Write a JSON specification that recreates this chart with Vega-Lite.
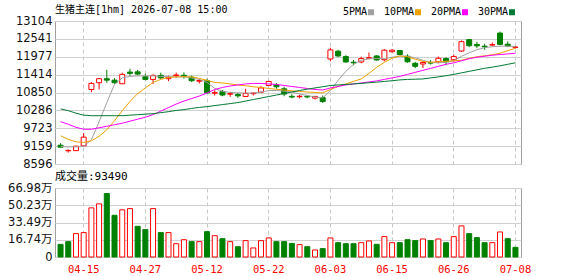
{
  "$schema": "https://vega.github.io/schema/vega-lite/v6.json",
  "padding": {"left": 7, "top": 4, "right": 0, "bottom": 0},
  "background": "white",
  "spacing": 0,
  "config": {
    "view": {"stroke": "#a0a0a0", "strokeWidth": 1},
    "font": "DejaVu Sans, Noto Sans CJK SC",
    "axisY": {"labelFont": "DejaVu Sans, Noto Sans CJK SC", "labelFontSize": 11.5, "labelColor": "#111111", "ticks": false, "domain": false, "labelPadding": 3, "gridColor": "#d0d0d0", "gridWidth": 1, "title": null, "labelOverlap": false, "labelFlush": false},
    "axisX": {"ticks": false, "domain": false, "gridColor": "#c8c8c8", "gridDash": [4, 3], "title": null, "bandPosition": 0.5, "labelOverlap": false, "labelFlush": false}
  },
  "data": {"values": [
    {"d":"04-10","o":9189,"h":9253,"l":9119,"c":9126,"v":122700,"dir":"d","vdir":"d","5PMA":9151,"10PMA":9485,"20PMA":9929,"30PMA":10332},
    {"d":"04-13","o":9011,"h":9062,"l":8954,"c":9024,"v":149000,"dir":"u","vdir":"d","5PMA":9135,"10PMA":9373,"20PMA":9850,"30PMA":10278},
    {"d":"04-14","o":9018,"h":9167,"l":9008,"c":9158,"v":227000,"dir":"u","vdir":"u","5PMA":9135,"10PMA":9294,"20PMA":9754,"30PMA":10199},
    {"d":"04-15","o":9167,"h":9570,"l":9158,"c":9443,"v":237000,"dir":"u","vdir":"u","5PMA":9151,"10PMA":9278,"20PMA":9691,"30PMA":10135},
    {"d":"04-16","o":10945,"h":11177,"l":10859,"c":11136,"v":477000,"dir":"u","vdir":"u","5PMA":9358,"10PMA":9326,"20PMA":9691,"30PMA":10119},
    {"d":"04-17","o":11158,"h":11294,"l":10945,"c":11285,"v":516000,"dir":"u","vdir":"u","5PMA":9929,"10PMA":9469,"20PMA":9738,"30PMA":10119},
    {"d":"04-20","o":11285,"h":11564,"l":11158,"c":11240,"v":616000,"dir":"d","vdir":"d","5PMA":10532,"10PMA":9675,"20PMA":9786,"30PMA":10119},
    {"d":"04-21","o":11240,"h":11304,"l":11126,"c":11158,"v":405000,"dir":"d","vdir":"d","5PMA":11104,"10PMA":9961,"20PMA":9834,"30PMA":10119},
    {"d":"04-22","o":11126,"h":11475,"l":11119,"c":11421,"v":458000,"dir":"u","vdir":"u","5PMA":11310,"10PMA":10278,"20PMA":9881,"30PMA":10119},
    {"d":"04-23","o":11494,"h":11602,"l":11380,"c":11453,"v":470000,"dir":"d","vdir":"u","5PMA":11358,"10PMA":10564,"20PMA":9945,"30PMA":10135},
    {"d":"04-24","o":11501,"h":11564,"l":11390,"c":11431,"v":298000,"dir":"d","vdir":"d","5PMA":11374,"10PMA":10818,"20PMA":10008,"30PMA":10151},
    {"d":"04-27","o":11348,"h":11443,"l":11240,"c":11263,"v":266000,"dir":"d","vdir":"d","5PMA":11374,"10PMA":10993,"20PMA":10072,"30PMA":10167},
    {"d":"04-28","o":11263,"h":11421,"l":11120,"c":11390,"v":470000,"dir":"u","vdir":"u","5PMA":11374,"10PMA":11167,"20PMA":10151,"30PMA":10183},
    {"d":"04-29","o":11390,"h":11475,"l":11285,"c":11310,"v":237000,"dir":"d","vdir":"d","5PMA":11358,"10PMA":11263,"20PMA":10262,"30PMA":10215},
    {"d":"04-30","o":11285,"h":11380,"l":11208,"c":11332,"v":237000,"dir":"u","vdir":"u","5PMA":11348,"10PMA":11326,"20PMA":10373,"30PMA":10246},
    {"d":"05-06","o":11383,"h":11475,"l":11316,"c":11402,"v":129000,"dir":"u","vdir":"u","5PMA":11342,"10PMA":11342,"20PMA":10485,"30PMA":10285},
    {"d":"05-07","o":11393,"h":11485,"l":11285,"c":11364,"v":168000,"dir":"d","vdir":"u","5PMA":11342,"10PMA":11348,"20PMA":10580,"30PMA":10310},
    {"d":"05-08","o":11332,"h":11380,"l":11183,"c":11221,"v":149000,"dir":"d","vdir":"d","5PMA":11310,"10PMA":11342,"20PMA":10659,"30PMA":10348},
    {"d":"05-11","o":11205,"h":11285,"l":11136,"c":11228,"v":149000,"dir":"u","vdir":"u","5PMA":11263,"10PMA":11294,"20PMA":10739,"30PMA":10380},
    {"d":"05-12","o":11221,"h":11285,"l":10818,"c":10840,"v":246000,"dir":"d","vdir":"d","5PMA":11167,"10PMA":11231,"20PMA":10834,"30PMA":10405},
    {"d":"05-13","o":10828,"h":10923,"l":10755,"c":10847,"v":207000,"dir":"u","vdir":"u","5PMA":10977,"10PMA":11167,"20PMA":10945,"30PMA":10437},
    {"d":"05-14","o":10875,"h":10929,"l":10732,"c":10770,"v":178000,"dir":"d","vdir":"d","5PMA":10891,"10PMA":11151,"20PMA":11009,"30PMA":10469},
    {"d":"05-15","o":10796,"h":10872,"l":10713,"c":10815,"v":149000,"dir":"u","vdir":"u","5PMA":10850,"10PMA":11120,"20PMA":11056,"30PMA":10500},
    {"d":"05-18","o":10786,"h":10834,"l":10681,"c":10745,"v":100000,"dir":"d","vdir":"d","5PMA":10840,"10PMA":11088,"20PMA":11088,"30PMA":10532},
    {"d":"05-19","o":10723,"h":10967,"l":10713,"c":10820,"v":159000,"dir":"u","vdir":"u","5PMA":10834,"10PMA":11062,"20PMA":11120,"30PMA":10580},
    {"d":"05-20","o":10812,"h":10859,"l":10755,"c":10830,"v":88000,"dir":"u","vdir":"u","5PMA":10834,"10PMA":11031,"20PMA":11136,"30PMA":10628},
    {"d":"05-21","o":10859,"h":11056,"l":10834,"c":10993,"v":159000,"dir":"u","vdir":"u","5PMA":10866,"10PMA":11009,"20PMA":11136,"30PMA":10675},
    {"d":"05-22","o":11072,"h":11215,"l":11062,"c":11199,"v":185000,"dir":"u","vdir":"u","5PMA":10913,"10PMA":10977,"20PMA":11120,"30PMA":10723},
    {"d":"05-25","o":11094,"h":11151,"l":10967,"c":11031,"v":149000,"dir":"d","vdir":"d","5PMA":10913,"10PMA":10951,"20PMA":11104,"30PMA":10770},
    {"d":"05-26","o":10967,"h":11031,"l":10732,"c":10802,"v":149000,"dir":"d","vdir":"d","5PMA":10891,"10PMA":10929,"20PMA":11072,"30PMA":10818},
    {"d":"05-27","o":10729,"h":10796,"l":10669,"c":10707,"v":132000,"dir":"d","vdir":"d","5PMA":10866,"10PMA":10904,"20PMA":11040,"30PMA":10866},
    {"d":"05-28","o":10716,"h":10777,"l":10669,"c":10732,"v":120000,"dir":"u","vdir":"u","5PMA":10802,"10PMA":10882,"20PMA":11009,"30PMA":10913},
    {"d":"05-29","o":10729,"h":10755,"l":10669,"c":10710,"v":100000,"dir":"d","vdir":"d","5PMA":10755,"10PMA":10866,"20PMA":10977,"30PMA":10954},
    {"d":"06-01","o":10675,"h":10745,"l":10628,"c":10726,"v":68000,"dir":"u","vdir":"u","5PMA":10707,"10PMA":10850,"20PMA":10945,"30PMA":10993},
    {"d":"06-02","o":10691,"h":10755,"l":10523,"c":10564,"v":81000,"dir":"d","vdir":"d","5PMA":10682,"10PMA":10840,"20PMA":10929,"30PMA":11031},
    {"d":"06-03","o":11907,"h":12263,"l":11834,"c":12193,"v":185000,"dir":"u","vdir":"u","5PMA":10913,"10PMA":10945,"20PMA":10993,"30PMA":11072},
    {"d":"06-04","o":12152,"h":12193,"l":11961,"c":12002,"v":139000,"dir":"d","vdir":"d","5PMA":11231,"10PMA":11040,"20PMA":11040,"30PMA":11088},
    {"d":"06-05","o":11983,"h":12025,"l":11793,"c":11812,"v":129000,"dir":"d","vdir":"d","5PMA":11517,"10PMA":11120,"20PMA":11088,"30PMA":11104},
    {"d":"06-08","o":11805,"h":11875,"l":11707,"c":11786,"v":129000,"dir":"d","vdir":"d","5PMA":11739,"10PMA":11199,"20PMA":11120,"30PMA":11120},
    {"d":"06-09","o":11812,"h":11983,"l":11771,"c":11920,"v":139000,"dir":"u","vdir":"u","5PMA":11866,"10PMA":11278,"20PMA":11151,"30PMA":11136},
    {"d":"06-10","o":11929,"h":12110,"l":11898,"c":11948,"v":156000,"dir":"u","vdir":"u","5PMA":11913,"10PMA":11453,"20PMA":11183,"30PMA":11158},
    {"d":"06-11","o":12002,"h":12025,"l":11856,"c":11875,"v":123000,"dir":"d","vdir":"d","5PMA":11920,"10PMA":11644,"20PMA":11215,"30PMA":11177},
    {"d":"06-12","o":11882,"h":12215,"l":11834,"c":12183,"v":198000,"dir":"u","vdir":"u","5PMA":11920,"10PMA":11802,"20PMA":11263,"30PMA":11199},
    {"d":"06-15","o":12136,"h":12215,"l":12110,"c":12183,"v":139000,"dir":"u","vdir":"u","5PMA":11961,"10PMA":11929,"20PMA":11310,"30PMA":11221},
    {"d":"06-16","o":12174,"h":12193,"l":12025,"c":12047,"v":139000,"dir":"d","vdir":"d","5PMA":12002,"10PMA":12002,"20PMA":11358,"30PMA":11247},
    {"d":"06-17","o":11993,"h":12056,"l":11786,"c":11818,"v":168000,"dir":"d","vdir":"d","5PMA":11993,"10PMA":11977,"20PMA":11421,"30PMA":11263},
    {"d":"06-18","o":11771,"h":11818,"l":11618,"c":11675,"v":159000,"dir":"d","vdir":"d","5PMA":11945,"10PMA":11898,"20PMA":11485,"30PMA":11269},
    {"d":"06-22","o":11748,"h":11834,"l":11621,"c":11796,"v":175000,"dir":"u","vdir":"u","5PMA":11866,"10PMA":11834,"20PMA":11548,"30PMA":11278},
    {"d":"06-23","o":11796,"h":11875,"l":11729,"c":11777,"v":159000,"dir":"d","vdir":"d","5PMA":11802,"10PMA":11802,"20PMA":11612,"30PMA":11310},
    {"d":"06-24","o":11818,"h":11983,"l":11771,"c":11929,"v":175000,"dir":"u","vdir":"u","5PMA":11786,"10PMA":11818,"20PMA":11675,"30PMA":11342},
    {"d":"06-25","o":11923,"h":11961,"l":11707,"c":11818,"v":139000,"dir":"d","vdir":"d","5PMA":11802,"10PMA":11834,"20PMA":11739,"30PMA":11380},
    {"d":"06-26","o":11882,"h":12047,"l":11812,"c":11983,"v":198000,"dir":"u","vdir":"u","5PMA":11850,"10PMA":11850,"20PMA":11786,"30PMA":11421},
    {"d":"06-29","o":12158,"h":12491,"l":12129,"c":12453,"v":302000,"dir":"u","vdir":"u","5PMA":11993,"10PMA":11866,"20PMA":11850,"30PMA":11469},
    {"d":"06-30","o":12517,"h":12533,"l":12279,"c":12326,"v":227000,"dir":"d","vdir":"d","5PMA":12104,"10PMA":11929,"20PMA":11913,"30PMA":11517},
    {"d":"07-01","o":12364,"h":12447,"l":12247,"c":12320,"v":188000,"dir":"d","vdir":"d","5PMA":12199,"10PMA":11977,"20PMA":11961,"30PMA":11564},
    {"d":"07-02","o":12310,"h":12383,"l":12193,"c":12291,"v":139000,"dir":"d","vdir":"d","5PMA":12263,"10PMA":12009,"20PMA":11993,"30PMA":11612},
    {"d":"07-03","o":12345,"h":12428,"l":12310,"c":12360,"v":139000,"dir":"u","vdir":"u","5PMA":12294,"10PMA":12041,"20PMA":12025,"30PMA":11650},
    {"d":"07-06","o":12723,"h":12771,"l":12342,"c":12367,"v":243000,"dir":"d","vdir":"u","5PMA":12310,"10PMA":12088,"20PMA":12047,"30PMA":11691},
    {"d":"07-07","o":12374,"h":12460,"l":12288,"c":12317,"v":178000,"dir":"d","vdir":"d","5PMA":12310,"10PMA":12168,"20PMA":12066,"30PMA":11739},
    {"d":"07-08","o":12272,"h":12310,"l":12237,"c":12282,"v":93490,"dir":"u","vdir":"d","5PMA":12294,"10PMA":12247,"20PMA":12088,"30PMA":11786}
  ]},
  "vconcat": [
    {
      "width": 466,
      "height": 143,
      "title": {"text": "生猪主连[1hm] 2026-07-08 15:00", "anchor": "start", "frame": "group", "font": "DejaVu Sans Mono, Noto Sans CJK SC", "fontSize": 10, "fontWeight": "normal", "color": "#000000", "offset": -8},
      "encoding": {
        "x": {"field": "d", "type": "ordinal", "sort": null,
          "scale": {"paddingInner": 0, "paddingOuter": 0.22},
          "axis": {"values": ["04-15","04-27","05-12","05-22","06-03","06-15","06-26","07-08"], "labels": false, "grid": true}}
      },
      "layer": [
        {
          "mark": {"type": "rule", "strokeWidth": 1},
          "encoding": {
            "y": {"field": "l", "type": "quantitative", "scale": {"domain": [8596, 13104], "zero": false, "nice": false},
              "axis": {"values": [8596, 9159, 9723, 10286, 10850, 11414, 11977, 12541, 13104], "format": "d", "grid": true, "labelOverlap": false}},
            "y2": {"field": "h"},
            "color": {"field": "dir", "type": "nominal", "scale": {"domain": ["u", "d"], "range": ["#ff0000", "#008000"]}, "legend": null}
          }
        },
        {
          "mark": {"type": "bar", "size": 5, "strokeWidth": 1},
          "encoding": {
            "y": {"field": "o", "type": "quantitative",
              "axis": {"values": [8596, 9159, 9723, 10286, 10850, 11414, 11977, 12541, 13104], "format": "d", "grid": true, "labelOverlap": false}},
            "y2": {"field": "c"},
            "fill": {"field": "dir", "type": "nominal", "scale": {"domain": ["u", "d"], "range": ["#ffffff", "#008000"]}, "legend": null},
            "stroke": {"field": "dir", "type": "nominal", "scale": {"domain": ["u", "d"], "range": ["#ff0000", "#008000"]}, "legend": null}
          }
        },
        {
          "transform": [{"fold": ["5PMA", "10PMA", "20PMA", "30PMA"], "as": ["k", "mv"]}],
          "mark": {"type": "line", "strokeWidth": 1},
          "encoding": {
            "y": {"field": "mv", "type": "quantitative",
              "axis": {"values": [8596, 9159, 9723, 10286, 10850, 11414, 11977, 12541, 13104], "format": "d", "grid": true, "labelOverlap": false}},
            "color": {"field": "k", "type": "nominal", "sort": null,
              "scale": {"domain": ["5PMA", "10PMA", "20PMA", "30PMA"], "range": ["#a0a0a0", "#f0a000", "#ff00ff", "#007a33"]},
              "legend": {"orient": "none", "legendX": 311, "legendY": -14, "direction": "horizontal", "title": null,
                "symbolType": "square", "symbolSize": 9, "symbolStrokeWidth": 3, "labelAlign": "right", "labelOffset": -9,
                "labelFont": "DejaVu Sans Mono", "labelFontSize": 10, "labelColor": "#000000", "columnPadding": 4}}
          }
        }
      ],
      "resolve": {"scale": {"color": "independent", "fill": "independent", "stroke": "independent"}}
    },
    {
      "width": 466,
      "height": 69,
      "title": {"text": "成交量:93490", "anchor": "start", "frame": "group", "font": "DejaVu Sans Mono, Noto Sans CJK SC", "fontSize": 11, "fontWeight": "normal", "color": "#000000", "offset": 0},
      "mark": {"type": "bar", "size": 5, "strokeWidth": 1},
      "encoding": {
        "x": {"field": "d", "type": "ordinal", "sort": null,
          "scale": {"paddingInner": 0, "paddingOuter": 0.22},
          "axis": {"values": ["04-15","04-27","05-12","05-22","06-03","06-15","06-26","07-08"], "grid": true, "labelAngle": 0,
            "labelColor": "#ff0000", "labelFont": "DejaVu Sans Mono", "labelFontSize": 10.5, "labelPadding": 7}},
        "y": {"field": "v", "type": "quantitative", "scale": {"domain": [0, 669800], "nice": false},
          "axis": {"values": [0, 167400, 334900, 502300, 669800], "grid": true, "labelOverlap": false,
            "labelExpr": "datum.value == 0 ? '0' : format(datum.value / 10000, '.2f') + '万'"}},
        "fill": {"field": "vdir", "type": "nominal", "scale": {"domain": ["u", "d"], "range": ["#ffffff", "#008000"]}, "legend": null},
        "stroke": {"field": "vdir", "type": "nominal", "scale": {"domain": ["u", "d"], "range": ["#ff0000", "#008000"]}, "legend": null}
      }
    }
  ]
}
